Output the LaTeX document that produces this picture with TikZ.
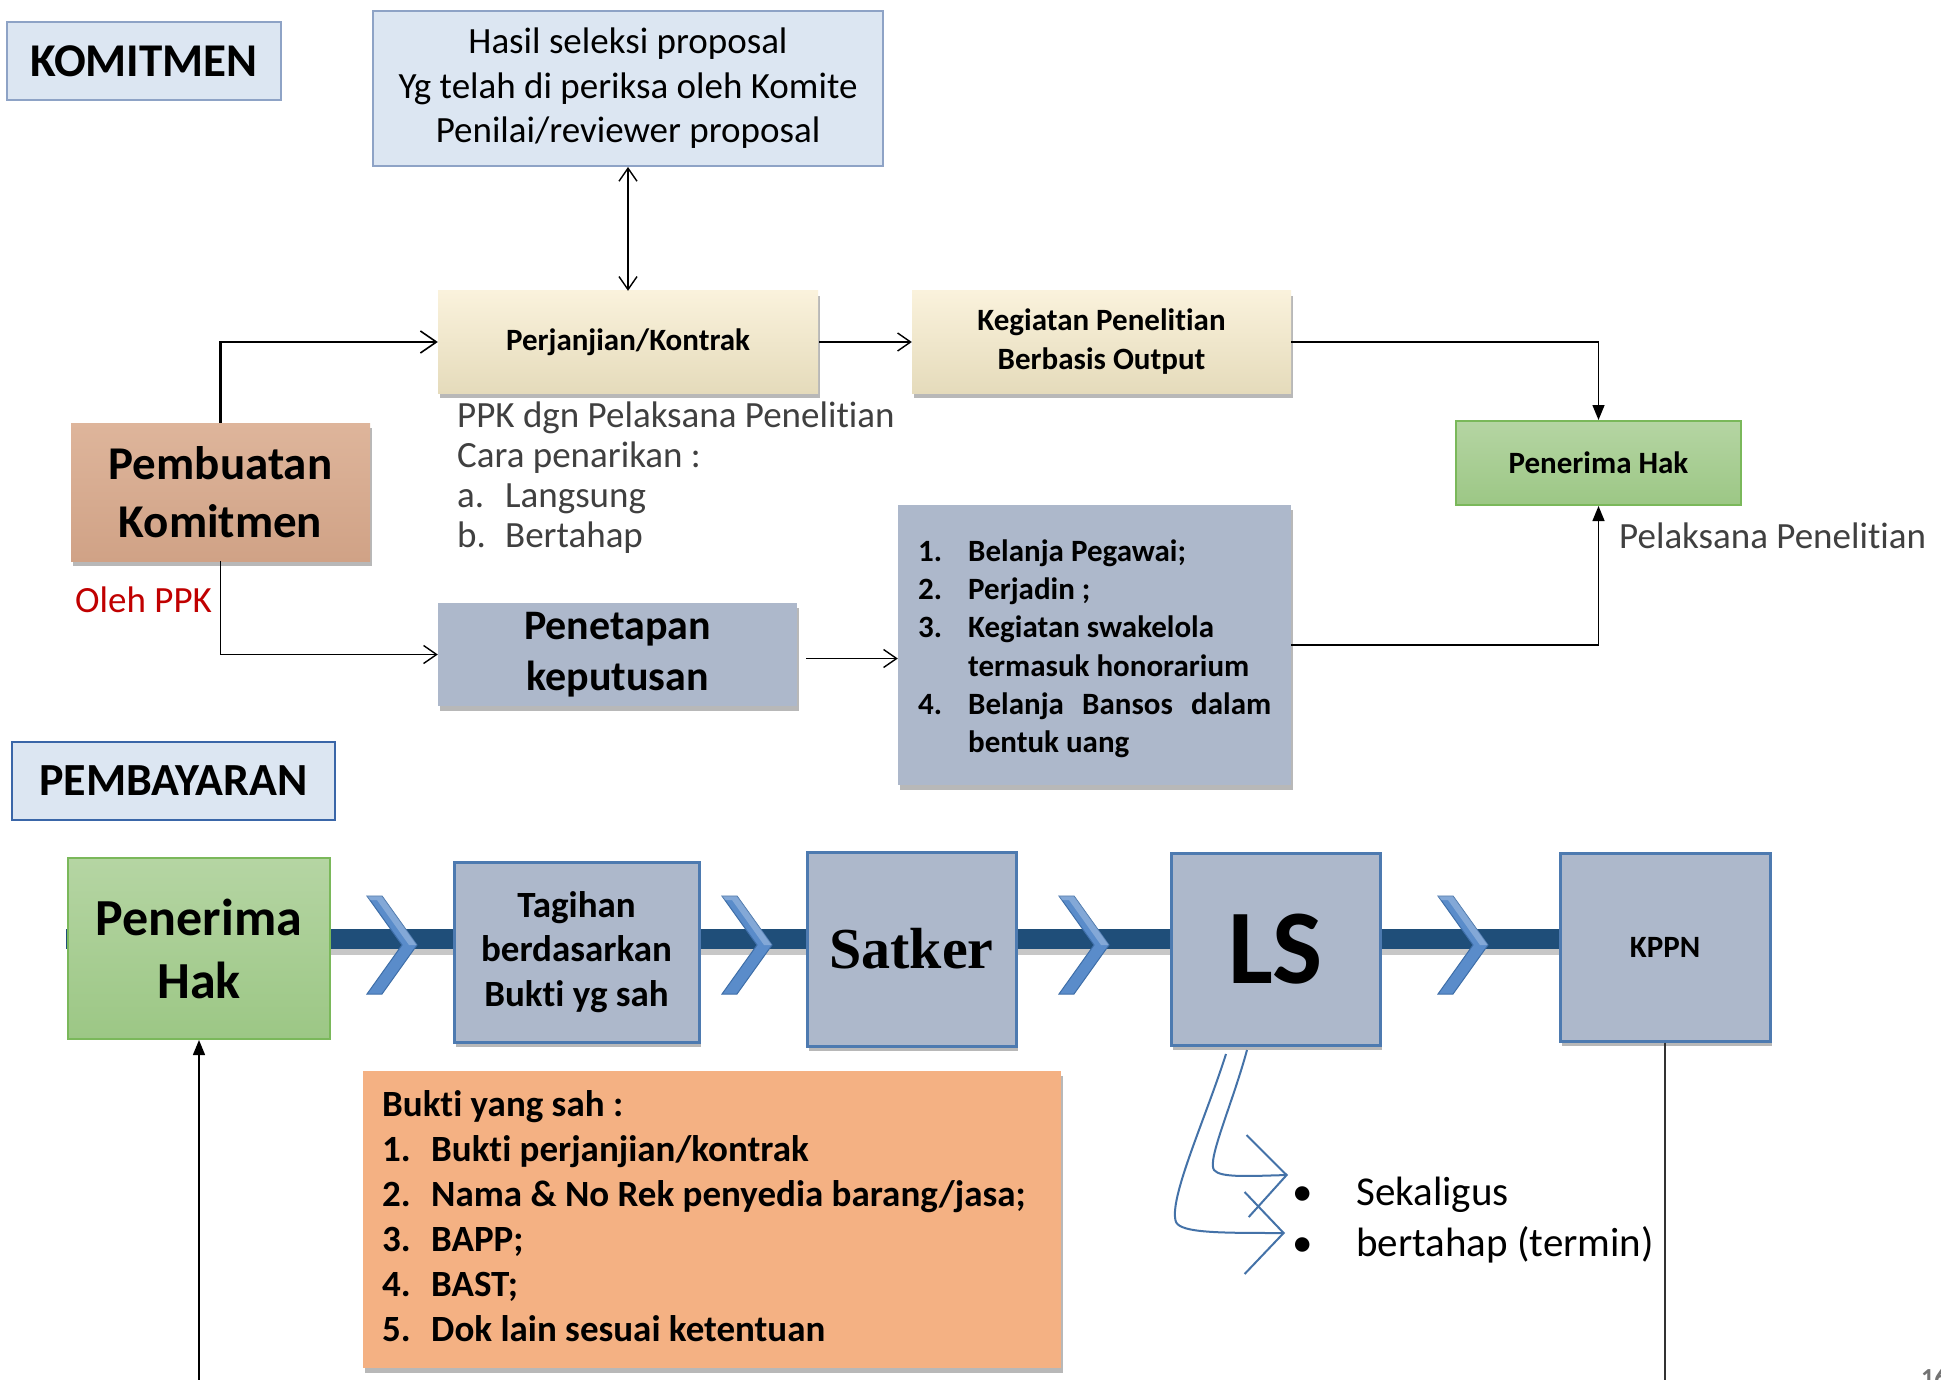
\documentclass[tikz,border=0pt]{standalone}
\usepackage{fontspec}
\setmainfont{Carlito}[Ligatures=NoCommon]
\newfontfamily\satkerfont{Liberation Serif}
\usetikzlibrary{arrows.meta,shadows}
\newcommand{\myfs}[2]{\fontsize{#1}{#2}\selectfont}
\definecolor{lblue}{HTML}{DCE6F2}
\definecolor{kborder}{HTML}{8EA3C6}
\definecolor{pborder}{HTML}{3A66A8}
\definecolor{tantop}{HTML}{FAF2DC}
\definecolor{tanbot}{HTML}{E5DBBB}
\definecolor{pembtop}{HTML}{DEB59B}
\definecolor{pembbot}{HTML}{D0A286}
\definecolor{slate}{HTML}{ADB8CB}
\definecolor{grtop}{HTML}{B5D5A3}
\definecolor{grbot}{HTML}{9CC785}
\definecolor{grborder}{HTML}{7AB85A}
\definecolor{boxblue}{HTML}{4D7AB0}
\definecolor{bar}{HTML}{1F4E79}
\definecolor{chev}{HTML}{5A8CCA}
\definecolor{chevdark}{HTML}{3E6EA8}
\definecolor{orange}{HTML}{F4B183}
\definecolor{curve}{HTML}{4472A8}
\definecolor{graytext}{HTML}{404040}
\definecolor{ppkred}{HTML}{C00000}
\tikzset{
  bx/.style={inner sep=0pt, align=center},
  shad/.style={drop shadow={shadow xshift=2pt, shadow yshift=-5pt, opacity=0.28, fill=black}},
  lbl/.style={inner sep=0pt, anchor=base west},
  thinln/.style={line width=1.4pt, draw=black},
  barb/.style={-{Straight Barb[length=13pt,width=18pt,line width=1.4pt]}},
  tri/.style={-{Triangle[length=15pt,width=12pt]}},
  curvy/.style={draw=curve, line width=2pt, -{Straight Barb[length=39pt,width=82pt,line width=2pt]}},
  pbox/.style={bx, fill=slate, draw=boxblue, line width=3pt, shad},
}
\begin{document}
\begin{tikzpicture}[x=1pt,y=-1pt]
\useasboundingbox (0,0) rectangle (1941,1380);
\fill[white] (0,0) rectangle (1941,1380);

% ---------- KOMITMEN section ----------
\node[bx, fill=lblue, draw=kborder, line width=2pt, minimum width=274pt, minimum height=78pt,
      font=\myfs{47}{56}\bfseries] (komit) at (144,61) {KOMITMEN};

\node[bx, fill=lblue, draw=kborder, line width=2pt, minimum width=510pt, minimum height=155pt,
      font=\myfs{37}{44.5}] (hasil) at (628,88.5)
      {Hasil seleksi proposal\\Yg telah di periksa oleh Komite\\Penilai/reviewer proposal};

\node[bx, top color=tantop, bottom color=tanbot, shad, minimum width=380pt, minimum height=102pt,
      font=\myfs{31}{38}\bfseries] (perj) at (628,342) {\raisebox{-4pt}{Perjanjian/Kontrak}};

\node[bx, top color=tantop, bottom color=tanbot, shad, minimum width=379pt, minimum height=102pt,
      font=\myfs{31}{39}\bfseries] (keg) at (1101.5,342) {Kegiatan Penelitian\\Berbasis Output};

\node[bx, top color=grtop, bottom color=grbot, draw=grborder, line width=2pt,
      minimum width=285pt, minimum height=84pt, font=\myfs{31}{38}\bfseries] (phak1) at (1598.5,463) {Penerima Hak};

\node[bx, top color=pembtop, bottom color=pembbot, shad, minimum width=299pt, minimum height=138pt,
      font=\myfs{47}{58}\bfseries] (pemb) at (220.5,492) {Pembuatan\\Komitmen};

\node[bx, fill=slate, shad, minimum width=359pt, minimum height=103pt,
      font=\myfs{42}{51}\bfseries] (pen) at (617.5,654.5) {Penetapan\\keputusan};

\node[bx, fill=slate, shad, minimum width=393pt, minimum height=280pt] (list) at (1094.5,645) {};

% text beside boxes
\node[lbl, font=\myfs{37}{40}, text=graytext] (ppk1) at (457,427) {PPK dgn Pelaksana Penelitian};
\node[lbl, font=\myfs{37}{40}, text=graytext] (ppk2) at (457,467) {Cara penarikan :};
\node[lbl, font=\myfs{37}{40}, text=graytext] (ppk3) at (457,507) {\makebox[48pt][l]{a.}Langsung};
\node[lbl, font=\myfs{37}{40}, text=graytext] (ppk4) at (457,547) {\makebox[48pt][l]{b.}Bertahap};

\node[lbl, font=\myfs{37}{40}, text=graytext] (pelak) at (1619,548) {Pelaksana Penelitian};
\node[lbl, font=\myfs{37}{40}, text=ppkred] (oleh) at (75,612) {Oleh PPK};

% list inside slate box
\node[lbl, font=\myfs{31}{38}\bfseries] (l1) at (918,561) {\makebox[50pt][l]{1.}Belanja Pegawai;};
\node[lbl, font=\myfs{31}{38}\bfseries] (l2) at (918,599) {\makebox[50pt][l]{2.}Perjadin ;};
\node[lbl, font=\myfs{31}{38}\bfseries] (l3) at (918,637) {\makebox[50pt][l]{3.}Kegiatan swakelola};
\node[lbl, font=\myfs{31}{38}\bfseries] (l4) at (968,676) {termasuk honorarium};
\node[lbl, font=\myfs{31}{38}\bfseries] (l5) at (918,714) {\makebox[50pt][l]{4.}\hbox to 303pt{Belanja\hfill Bansos\hfill dalam}};
\node[lbl, font=\myfs{31}{38}\bfseries] (l6) at (968,752) {bentuk uang};

% connectors (top)
\draw[thinln, {Straight Barb[length=13pt,width=18pt,line width=1.4pt]}-{Straight Barb[length=13pt,width=18pt,line width=1.4pt]}]
  (hasil.south) -- (perj.north);
\draw[thinln, barb] ([xshift=1pt]perj.east) -- (keg.west);
\draw[line width=2.8pt, -{Straight Barb[length=16pt,width=22pt,line width=1.6pt]}] (pemb.north) |- (perj.west);
\draw[thinln, barb] (pemb.south) |- (pen.west);
\draw[thinln, barb] ([xshift=9pt,yshift=-4pt]pen.east) -- ([yshift=-4pt]pen.east -| list.west);
\draw[thinln, tri] (keg.east) -| (phak1.north);
\draw[thinln, tri] (list.east) -| (phak1.south);

% ---------- PEMBAYARAN section ----------
\node[bx, fill=lblue, draw=pborder, line width=2.5pt, minimum width=323pt, minimum height=78pt,
      font=\myfs{46}{55}\bfseries] (pembay) at (173.5,781) {PEMBAYARAN};

% bar with shadow
\fill[black, opacity=0.22] (67,933) rectangle (1560,955);
\fill[bar] (66,929) rectangle (1560,949);

% chevrons
\foreach \cx/\nm in {367/ch1, 722/ch2, 1059/ch3, 1438/ch4}{
  \filldraw[fill=chev, draw=chevdark, line width=1pt, shift={(\cx,896)}]
    (0,0) -- (15,0) -- (50,49) -- (15,98) -- (0,98) -- (35,49) -- cycle;
  \fill[white, opacity=0.25, shift={(\cx,896)}] (0,0) -- (15,0) -- (50,49) -- (42,49) -- (10,4) -- (3,4) -- cycle;
}

\node[bx, top color=grtop, bottom color=grbot, draw=grborder, line width=2pt,
      minimum width=262pt, minimum height=181pt, font=\myfs{52}{63}\bfseries] (phak2) at (199,948.5) {Penerima\\Hak};

\node[pbox, minimum width=245pt, minimum height=180pt, font=\myfs{37}{44.5}\bfseries] (tag) at (576.5,952)
      {Tagihan\\berdasarkan\\Bukti yg sah};
\node[pbox, minimum width=209pt, minimum height=194pt, font=\myfs{58}{64}\satkerfont\bfseries] (satker) at (911.5,949) {Satker};
\node[pbox, minimum width=209pt, minimum height=192pt, font=\myfs{106}{110}\bfseries] (ls) at (1275.5,949) {LS};
\node[pbox, minimum width=210pt, minimum height=188pt, font=\myfs{31}{38}\bfseries] (kppn) at (1665,947) {KPPN};

\node[bx, fill=orange, shad, minimum width=698pt, minimum height=297pt] (bukti) at (712,1219.5) {};
\node[lbl, font=\myfs{37}{45}\bfseries] (b0) at (382,1116) {Bukti yang sah :};
\node[lbl, font=\myfs{37}{45}\bfseries] (b1) at (382,1161) {\makebox[49pt][l]{1.}Bukti perjanjian/kontrak};
\node[lbl, font=\myfs{37}{45}\bfseries] (b2) at (382,1206) {\makebox[49pt][l]{2.}Nama \& No Rek penyedia barang/jasa;};
\node[lbl, font=\myfs{37}{45}\bfseries] (b3) at (382,1251) {\makebox[49pt][l]{3.}BAPP;};
\node[lbl, font=\myfs{37}{45}\bfseries] (b4) at (382,1296) {\makebox[49pt][l]{4.}BAST;};
\node[lbl, font=\myfs{37}{45}\bfseries] (b5) at (382,1341) {\makebox[49pt][l]{5.}Dok lain sesuai ketentuan};

% bullets
\node[inner sep=0pt, anchor=base, font=\myfs{41}{49}] (bul1) at (1303,1205) {•};
\node[inner sep=0pt, anchor=base, font=\myfs{41}{49}] (bul2) at (1303,1256) {•};
\node[lbl, font=\myfs{41}{49}] (sek) at (1356,1205) {Sekaligus};
\node[lbl, font=\myfs{41}{49}] (ber) at (1356,1256) {bertahap (termin)};

% curvy arrows from LS
\coordinate (ca0) at (1226,1054);
\coordinate (ca1) at (1285,1233);
\coordinate (cb0) at (1247,1050);
\coordinate (cb1) at (1288,1175);
\draw[curvy] (ca0) .. controls (1205,1120) and (1168,1200) .. (1176,1222)
                  .. controls (1181,1233) and (1220,1233) .. (ca1);
\draw[curvy] (cb0) .. controls (1232,1105) and (1207,1160) .. (1214,1170)
                  .. controls (1220,1178) and (1250,1176) .. (cb1);

% bottom connectors
\coordinate (botA) at (199,1385);
\coordinate (botB) at (1665,1385);
\draw[thinln, tri] (botA) -- (phak2.south);
\draw[line width=1.2pt, draw=black!80] (kppn.south) -- (botB);

% page number (cut off at the page edge, as in the reference)
\node[inner sep=0pt, anchor=north west, text=black!55, font=\myfs{26}{30}\bfseries] (pgno) at (1921,1369) {16};
\end{tikzpicture}
\end{document}
